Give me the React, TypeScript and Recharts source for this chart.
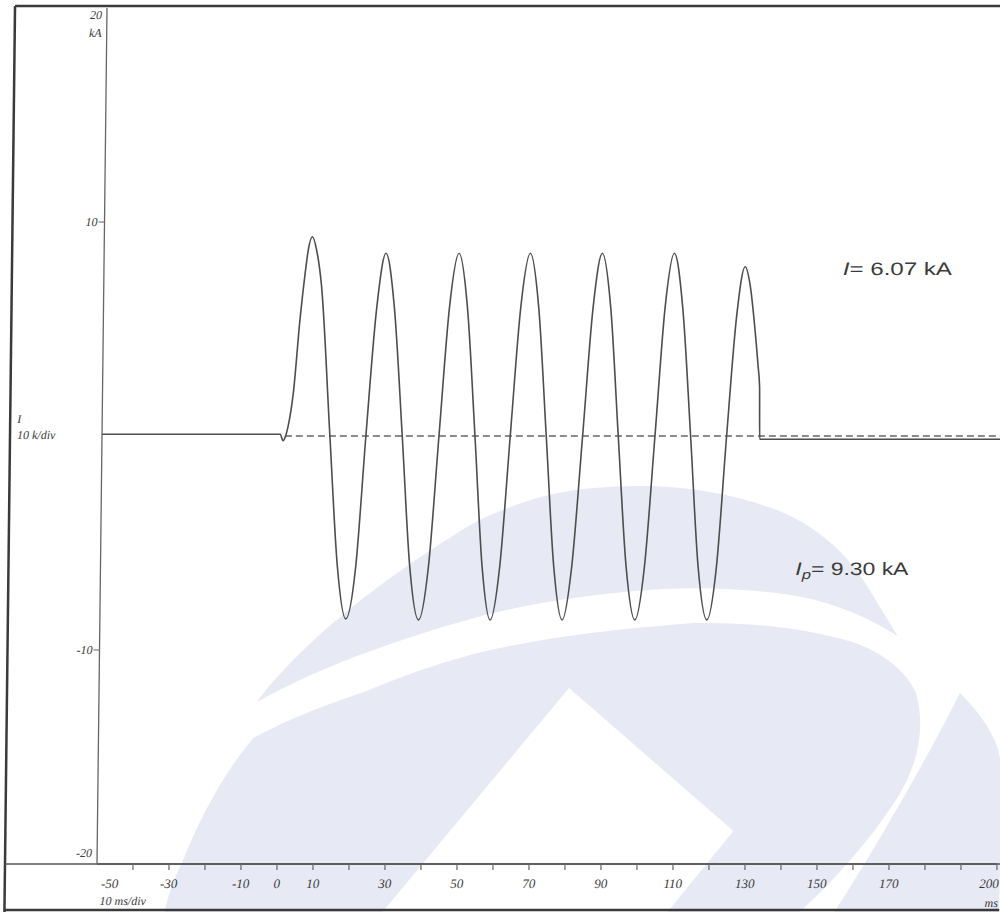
import { LineChart, Line, XAxis, YAxis } from 'recharts';

// oscillogram of the short-circuit current
const timeMs = [
  -50, -0.5, 0.3, 1.0, 1.6, 3.0, 4.6, 5.9, 6.7, 7.8, 9.0, 10.5, 13.3,
  15.8, 18.3, 20.9, 23.3, 25.9, 28.3, 30.8, 33.4,
  35.9, 38.5, 41.1, 43.6, 46.1, 48.6, 51.1, 53.6,
  56.0, 58.4, 60.9, 63.4, 65.9, 68.4, 70.9, 73.4,
  75.9, 78.4, 80.9, 83.5, 86.0, 88.4, 90.9, 93.4,
  96.0, 98.6, 101.1, 103.6, 106.0, 108.4, 110.9, 113.5,
  116.0, 118.6, 121.1, 123.5, 125.9, 128.1, 129.6, 130.9, 132.0, 132.5, 132.7, 200,
];
const currentKA = [
  0.08, 0.08, -0.22, 0.0, 0.4, 2.0, 5.4, 7.6, 8.7, 9.31, 8.7, 7.0, 0,
  -6.1, -8.55, -6.1, 0, 6.0, 8.54, 6.0, 0,
  -6.1, -8.6, -6.1, 0, 6.0, 8.54, 6.0, 0,
  -6.1, -8.6, -6.1, 0, 6.0, 8.54, 6.0, 0,
  -6.1, -8.6, -6.1, 0, 6.0, 8.54, 6.0, 0,
  -6.1, -8.6, -6.1, 0, 6.0, 8.54, 6.0, 0,
  -6.1, -8.6, -6.1, 0, 5.6, 7.91, 7.0, 5.2, 3.3, 2.3, -0.15, -0.15,
];
const baselineMs = [0.8, 200];
const baselineKA = [0, 0];

const xTickMarks = [-50, -40, -30, -20, -10, 0, 10, 20, 30, 40, 50, 60, 70, 80, 90, 100, 110, 120, 130, 140, 150, 160, 170, 180, 190, 200];
const xTickLabels = [-50, -30, -10, 0, 10, 30, 50, 70, 90, 110, 130, 150, 170, 200];
const yTicks = [-20, -10, 0, 10, 20];

const waveData = timeMs.map((t, k) => ({ t, i: currentKA[k] }));
const baseData = baselineMs.map((t, k) => ({ t, i: baselineKA[k] }));

const serif = '"Liberation Serif", "DejaVu Serif", serif';
const sans = '"Liberation Sans", Arial, sans-serif';
const ink = '#3a3a3a';
const wm = '#e7e9f5';

const XTick = (props: any) => {
  const { x, y, payload } = props;
  const v = payload.value;
  const labelled = xTickLabels.includes(v);
  // first and last labels sit inside the sheet edges
  let lx = x;
  let anchor = 'middle';
  if (v === -50) lx = x + 13;
  if (v === 200) { lx = x + 2; anchor = 'end'; }
  return (
    <g>
      {v > -50 && <line x1={x} y1={y} x2={x} y2={y + 6} stroke="#666" strokeWidth={1.2} />}
      {labelled && (
        <text x={lx} y={y + 24} textAnchor={anchor} fontFamily={serif}
          fontStyle="italic" fontSize={13} fill={ink}>{v}</text>
      )}
    </g>
  );
};

const YTick = (props: any) => {
  const { x, y, payload } = props;
  const v = payload.value;
  const txt = { fontFamily: serif, fontStyle: 'italic', fontSize: 12, fill: ink } as any;
  if (v === 20) {
    return (
      <g>
        <text x={x - 5} y={y + 11} textAnchor="end" {...txt}>20</text>
        <text x={x - 5} y={y + 29} textAnchor="end" {...txt}>kA</text>
      </g>
    );
  }
  if (v === -20) {
    return <text x={x - 5} y={y - 7} textAnchor="end" {...txt}>-20</text>;
  }
  if (v === 0) {
    return (
      <g>
        <text x={12} y={y - 13} {...txt}>I</text>
        <text x={12} y={y + 3} {...txt}>10 k/div</text>
      </g>
    );
  }
  return (
    <g>
      <line x1={x - 6} y1={y} x2={x} y2={y} stroke="#666" strokeWidth={1.2} />
      <text x={x - 7} y={y + 4} textAnchor="end" {...txt}>{v}</text>
    </g>
  );
};

export default function App() {
  return (
    <div style={{ position: 'absolute', left: 0, top: 0, width: 1000, height: 912, background: '#fff', overflow: 'hidden' }}>
      {/* the scan is slightly sheared: top of the sheet sits ~10px right of the bottom */}
      <div style={{ position: 'absolute', left: 0, top: 0, width: 1000, height: 912, transform: 'skewX(-0.67deg)', transformOrigin: '0 864px' }}>
        <svg width={1000} height={912} style={{ position: 'absolute', left: 0, top: 0 }}>
          {/* watermark logo */}
          <path d="M255 702 C 300 640, 390 570, 475 520 C 520 500, 550 491, 590 488 C 640 484, 700 484, 773 510 C 810 525, 840 550, 860 580 L 895 636 C 860 614, 820 598, 773 593 C 740 589, 700 587, 660 589 C 580 594, 520 605, 475 617 C 420 632, 330 660, 255 702 Z" fill={wm} />
          <path d="M165 912 C 170 890, 176 874, 182 863 C 200 815, 225 770, 252 738 C 300 712, 340 700, 367 690 C 420 668, 450 660, 475 653 C 540 638, 600 630, 692 623 C 750 622, 800 628, 850 642 C 880 652, 905 672, 914 693 C 925 730, 915 770, 895 800 C 870 840, 835 880, 800 912 Z" fill={wm} />
          <path d="M567 688 L 733 831 L 668 912 L 383 912 Z" fill="#fff" />
          <path d="M958 693 C 985 720, 1000 745, 1000 770 L 1000 912 L 835 912 C 880 840, 925 760, 958 693 Z" fill={wm} />
          {/* sheet frame */}
          <line x1={5} y1={6} x2={1000} y2={6} stroke="#3a3a3a" strokeWidth={2.5} />
          <line x1={5} y1={6} x2={5} y2={912} stroke="#3a3a3a" strokeWidth={2.5} />
          <line x1={5} y1={910} x2={1000} y2={910} stroke="#3a3a3a" strokeWidth={2.5} />
          <line x1={5} y1={864} x2={1000} y2={864} stroke="#555" strokeWidth={1.5} />
        </svg>
        <div style={{ position: 'absolute', left: 0, top: 0 }}>
          <LineChart width={1000} height={912} margin={{ top: 8, right: 3, bottom: 0, left: 0 }}>
            <XAxis dataKey="t" type="number" domain={[-50, 200]} allowDataOverflow ticks={xTickMarks}
              interval={0} height={48} tickSize={0} tickMargin={0} tickLine={false}
              axisLine={{ stroke: '#555', strokeWidth: 1.5 }} tick={<XTick />} />
            <YAxis type="number" domain={[-20, 20]} ticks={yTicks} interval={0} width={97}
              tickSize={0} tickMargin={0} tickLine={false}
              axisLine={{ stroke: '#666', strokeWidth: 1.3 }} tick={<YTick />} />
            <Line data={baseData} dataKey="i" type="linear" stroke="#666" strokeWidth={1.3}
              strokeDasharray="7 4" dot={false} isAnimationActive={false} />
            <Line data={waveData} dataKey="i" type="monotone" stroke="#4d4d4d" strokeWidth={1.6}
              dot={false} isAnimationActive={false} />
          </LineChart>
        </div>
        <svg width={1000} height={912} style={{ position: 'absolute', left: 0, top: 0, pointerEvents: 'none' }}>
          <text x={836} y={275} fontFamily={sans} fontSize={18} fill={ink} textLength={109} lengthAdjust="spacingAndGlyphs">
            <tspan fontStyle="italic">I</tspan>=  6.07 kA
          </text>
          <text x={792} y={575} fontFamily={sans} fontSize={18} fill={ink} textLength={113} lengthAdjust="spacingAndGlyphs">
            <tspan fontStyle="italic">I</tspan>
            <tspan fontStyle="italic" fontSize={13} dy={4}>p</tspan>
            <tspan dy={-4}>= 9.30 kA</tspan>
          </text>
          <text x={100} y={905} fontFamily={serif} fontStyle="italic" fontSize={12} fill={ink}>10 ms/div</text>
          <text x={985} y={907} fontFamily={serif} fontStyle="italic" fontSize={12} fill={ink}>ms</text>
        </svg>
      </div>
    </div>
  );
}
